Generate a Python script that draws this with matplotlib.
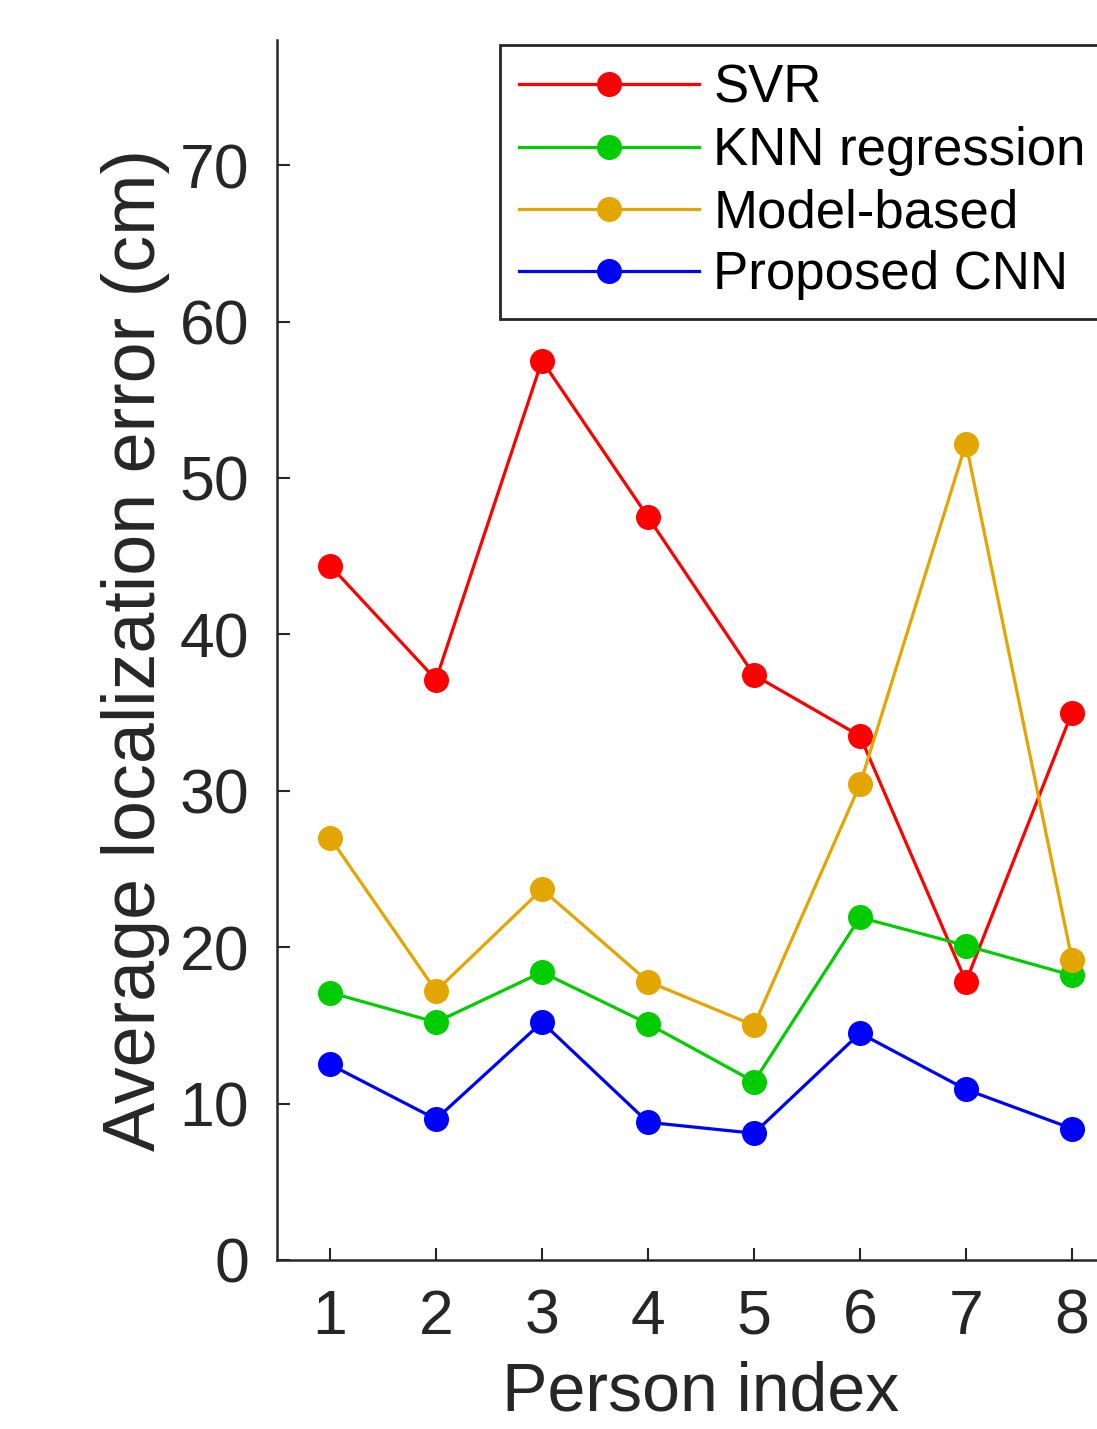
import numpy as np
import matplotlib.pyplot as plt

plt.rcParams['font.family'] = ['Liberation Sans', 'DejaVu Sans']

person = [1, 2, 3, 4, 5, 6, 7, 8]
svr = [44.4, 37.1, 57.5, 47.5, 37.4, 33.5, 17.8, 35.0]
knn = [17.1, 15.2, 18.4, 15.1, 11.4, 21.9, 20.1, 18.2]
model_based = [27.0, 17.2, 23.7, 17.8, 15.0, 30.4, 52.2, 19.2]
cnn = [12.5, 9.0, 15.2, 8.8, 8.1, 14.5, 10.9, 8.4]

labels = ['SVR', 'KNN regression', 'Model-based', 'Proposed CNN']
colors = ['#ff0000', '#00cc00', '#e3a500', '#0000ff']
dark = '#262626'

fig = plt.figure(figsize=(10.97, 14.29), dpi=100)
ax = fig.add_axes([0.2525, 0.1183, 0.773, 0.8537])

for vals, lab, c in zip([svr, knn, model_based, cnn], labels, colors):
    ax.plot(person, vals, '-o', color=c, lw=2.3, ms=17, label=lab)

ax.set_xlim(0.5, 8.5)
ax.set_ylim(0, 78)
ax.set_xticks(person)
ax.set_yticks(np.arange(0, 71, 10))
ax.spines['top'].set_visible(False)
ax.spines['right'].set_visible(False)
for s in ['left', 'bottom']:
    ax.spines[s].set_linewidth(1.8)
    ax.spines[s].set_color(dark)
ax.tick_params(direction='in', length=9, width=1.5, color=dark,
               labelsize=45, labelcolor=dark, pad=20)

ax.set_xlabel('Person index', fontsize=49, color=dark, labelpad=10)
ax.set_ylabel('Average localization error (cm)', fontsize=53, color=dark, labelpad=7)

leg = ax.legend(loc='upper left', bbox_to_anchor=(0.263, 0.996), fontsize=38,
                handlelength=3.41, labelspacing=0.23, handletextpad=0.27,
                borderpad=0.36, borderaxespad=0, fancybox=False, framealpha=1)
leg.get_frame().set_edgecolor(dark)
leg.get_frame().set_linewidth(2)

fig.savefig('out.png', dpi=100)
